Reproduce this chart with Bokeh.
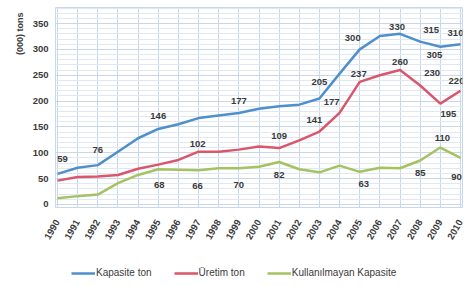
import math
from bokeh.plotting import figure
from bokeh.layouts import column
from bokeh.models import (ColumnDataSource, Legend, LegendItem, Title,
                          SingleIntervalTicker, Range1d, FixedTicker)
from bokeh.core.properties import value
from bokeh.embed import file_html
from bokeh.resources import INLINE

years = list(range(1990, 2011))
kapasite = [59, 71, 76, 102, 128, 146, 155, 167, 172, 177, 185, 190, 193, 205, 253, 300, 326, 330, 315, 305, 310]
uretim = [46, 53, 54, 57, 69, 77, 86, 102, 102, 106, 112, 109, 124, 141, 177, 237, 250, 260, 230, 195, 220]
kullanilmayan = [12, 16, 19, 41, 57, 68, 67, 66, 70, 70, 73, 82, 68, 62, 75, 63, 71, 70, 85, 110, 90]

series_names = ["Kapasite ton", "Üretim ton", "Kullanılmayan Kapasite"]
y_label = "(000) tons"

# labelled years per series
kap_lab_years = [1990, 1992, 1995, 1999, 2003, 2005, 2007, 2008, 2009, 2010]
ure_lab_years = [1997, 2001, 2003, 2004, 2005, 2007, 2008, 2009, 2010]
kul_lab_years = [1995, 1997, 1999, 2001, 2005, 2008, 2009, 2010]

# label offsets (styling, screen px)
kap_dx = [5, 0, 0, 0, 0, -7, -3, 11, -6, -5]
kap_dy = [-15, -15, -13, -12, -16, -11, -7, -12, 8, -11]
ure_dx = [-1, 0, -5, -8, -1, 0, 12, 8, -4]
ure_dy = [-8, -12, -12, -11, -8, -8, -13, 10, -10]
kul_dx = [1, -1, 0, 0, 4, 0, 2, -4]
kul_dy = [16, 16, 17, 13, 12, 13, -10, 19]

BLUE = "#4f8fcc"
RED = "#d9566b"
GREEN = "#a5c261"
TXT = "#3a3a3a"
FONT = "Liberation Sans"

p = figure(width=470, height=254, output_backend="svg", toolbar_location=None,
           x_range=Range1d(1989.9, 2010.1), y_range=Range1d(-6, 381),
           min_border_left=55, min_border_right=8, min_border_top=7,
           min_border_bottom=47)

p.outline_line_color = "#c9d7ea"
p.background_fill_color = "white"
p.border_fill_color = "white"

# grid
p.xaxis.ticker = FixedTicker(ticks=years)
p.yaxis.ticker = SingleIntervalTicker(interval=50, num_minor_ticks=5)
p.xgrid.grid_line_color = "#c9d7ea"
p.ygrid.grid_line_color = "#c9d7ea"
p.ygrid.minor_grid_line_color = "#dfe8f4"

for ax in (p.xaxis, p.yaxis):
    ax.axis_line_color = None
    ax.major_tick_line_color = None
    ax.minor_tick_line_color = None
    ax.major_tick_out = 0
    ax.major_tick_in = 0
    ax.minor_tick_out = 0
    ax.major_label_text_font = FONT
    ax.major_label_text_color = TXT
    ax.major_label_text_font_size = "9.5px"
    ax.major_label_text_font_style = "bold"

p.xaxis.major_label_orientation = math.pi / 3
p.xaxis.major_label_standoff = 13
p.yaxis.major_label_standoff = 7

p.add_layout(Title(text=y_label, align="right", offset=5,
                   text_font=FONT, text_font_size="9px",
                   text_font_style="bold", text_color=TXT), "left")

src = ColumnDataSource(dict(x=years, k=kapasite, u=uretim, g=kullanilmayan))
p.line("x", "k", source=src, line_color=BLUE, line_width=2.5)
p.line("x", "u", source=src, line_color=RED, line_width=2.5)
p.line("x", "g", source=src, line_color=GREEN, line_width=2.5)


def add_labels(lab_years, vals, dx, dy):
    ys = [vals[years.index(y)] for y in lab_years]
    s = ColumnDataSource(dict(x=lab_years, y=ys, t=[str(v) for v in ys],
                              dx=dx, dy=dy))
    p.text("x", "y", text="t", source=s, x_offset="dx", y_offset="dy",
           text_align="center", text_baseline="middle",
           text_font=value(FONT), text_font_size="9.5px",
           text_font_style="bold", text_color=TXT)


add_labels(kap_lab_years, kapasite, kap_dx, kap_dy)
add_labels(ure_lab_years, uretim, ure_dx, ure_dy)
add_labels(kul_lab_years, kullanilmayan, kul_dx, kul_dy)

# legend in its own strip below the chart
lg = figure(width=470, height=28, output_backend="svg", toolbar_location=None,
            x_range=Range1d(0, 1), y_range=Range1d(0, 1),
            x_axis_type=None, y_axis_type=None,
            min_border_left=0, min_border_right=0, min_border_top=0,
            min_border_bottom=0)
lg.outline_line_color = None
lg.xgrid.visible = False
lg.ygrid.visible = False
colors = [BLUE, RED, GREEN]
items = []
for name, c in zip(series_names, colors):
    r = lg.line(x=[5, 6], y=[5, 6], line_color=c, line_width=2.5)
    items.append(LegendItem(label=name, renderers=[r]))
legend = Legend(items=items, orientation="horizontal", location=(16, 4),
                label_text_font=FONT, label_text_font_size="10px",
                label_text_color=TXT, glyph_width=24, glyph_height=10,
                label_standoff=1, spacing=22, border_line_color=None,
                background_fill_alpha=0, margin=0, padding=0,
                label_height=10)
lg.add_layout(legend, "center")

layout = column(p, lg, spacing=0)
open("out.html", "w").write(file_html(layout, INLINE))
